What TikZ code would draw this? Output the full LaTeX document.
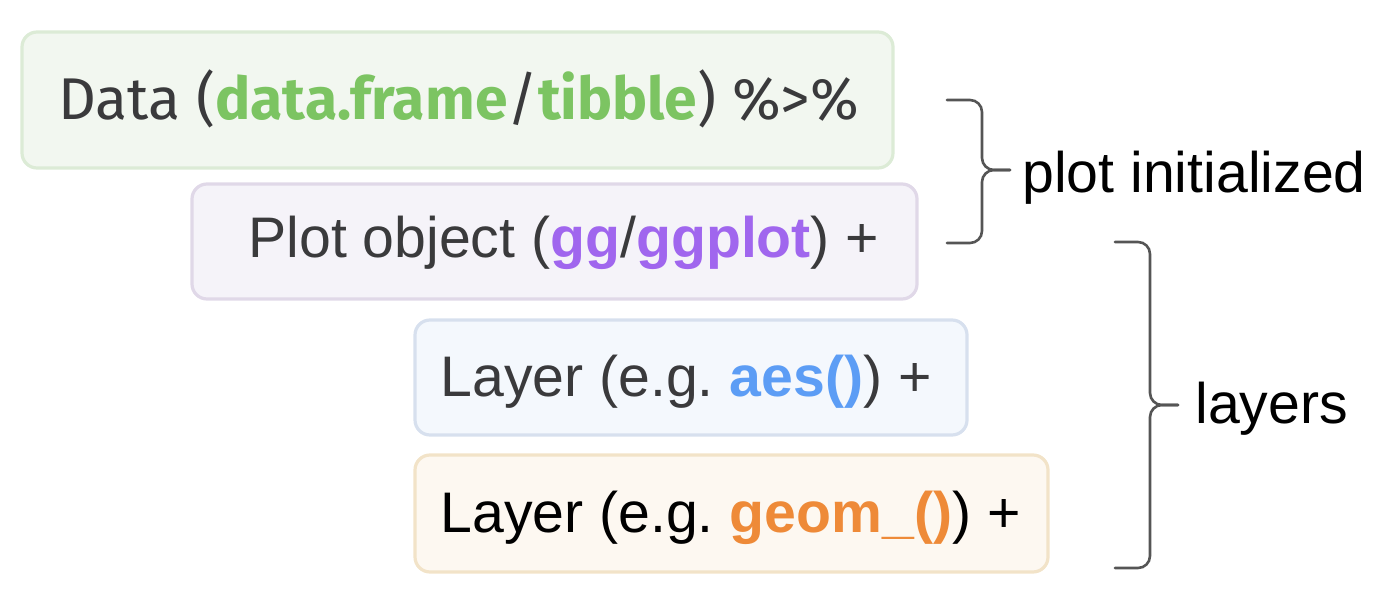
\documentclass[tikz,border=0pt]{standalone}
\usepackage{fontspec}
\setmainfont{Liberation Sans}
\newfontfamily\firafont{Fira Sans}
\definecolor{txt}{HTML}{3A3A3C}
\definecolor{gtxt}{HTML}{7CC462}
\definecolor{ptxt}{HTML}{A066EE}
\definecolor{btxt}{HTML}{5C9DF5}
\definecolor{otxt}{HTML}{EE8A38}
\definecolor{gfill}{HTML}{F2F7F0}
\definecolor{gline}{HTML}{DCEBD6}
\definecolor{pfill}{HTML}{F5F3F9}
\definecolor{pline}{HTML}{E0D8E8}
\definecolor{bfill}{HTML}{F4F8FD}
\definecolor{bline}{HTML}{D7E0EE}
\definecolor{ofill}{HTML}{FDF8F1}
\definecolor{oline}{HTML}{F2E3C8}
\definecolor{brc}{HTML}{555555}
\tikzset{
  box/.style={rounded corners=7.5pt, line width=1.6pt},
  lbl/.style={anchor=base west, inner sep=0pt, font=\fontsize{28.6}{30}\selectfont},
  brace/.style={draw=brc, line width=1.3pt, rounded corners=6pt, line cap=round}
}
\begin{document}
\begin{tikzpicture}[x=0.5pt,y=-0.5pt]
\useasboundingbox (0,0) rectangle (1400,608);
% boxes
\draw[box, fill=gfill, draw=gline] (22,32) rectangle (893,168);
\draw[box, fill=pfill, draw=pline] (192,184) rectangle (917,299);
\draw[box, fill=bfill, draw=bline] (415,320) rectangle (967,435);
\draw[box, fill=ofill, draw=oline] (415,455) rectangle (1048,572);
% texts
\node[lbl, text=txt, font=\firafont\fontsize{29.45}{30}\selectfont] (data) at (58,120)
  {Data (\textcolor{gtxt}{\bfseries data.frame}/\textcolor{gtxt}{\bfseries tibble}) \%>\%};
\node[lbl, text=txt] (plot) at (248,258)
  {Plot object (\textcolor{ptxt}{\bfseries gg}/\textcolor{ptxt}{\bfseries ggplot}) +};
\node[lbl, text=txt] (aes) at (440,397)
  {Layer (e.g.\ \textcolor{btxt}{\bfseries aes()}) +};
\node[lbl, text=black] (geom) at (440,532)
  {Layer (e.g.\ \textcolor{otxt}{\bfseries geom\_()}) +};
% braces
\coordinate (b1t) at (947,100);
\coordinate (b1b) at (947,243);
\coordinate (b1m) at (1010,170);
\draw[brace] (b1t) -- (982,100) -- (982,170) -- (b1m);
\draw[brace] (b1b) -- (982,243) -- (982,170) -- (b1m);
\coordinate (b2t) at (1115,242);
\coordinate (b2b) at (1115,568);
\coordinate (b2m) at (1178,405);
\draw[brace] (b2t) -- (1150,242) -- (1150,405) -- (b2m);
\draw[brace] (b2b) -- (1150,568) -- (1150,405) -- (b2m);
\node[lbl, text=black] (pinit) at (1022,193) {plot initialized};
\node[lbl, text=black] (layers) at (1195,423) {layers};
\end{tikzpicture}
\end{document}
